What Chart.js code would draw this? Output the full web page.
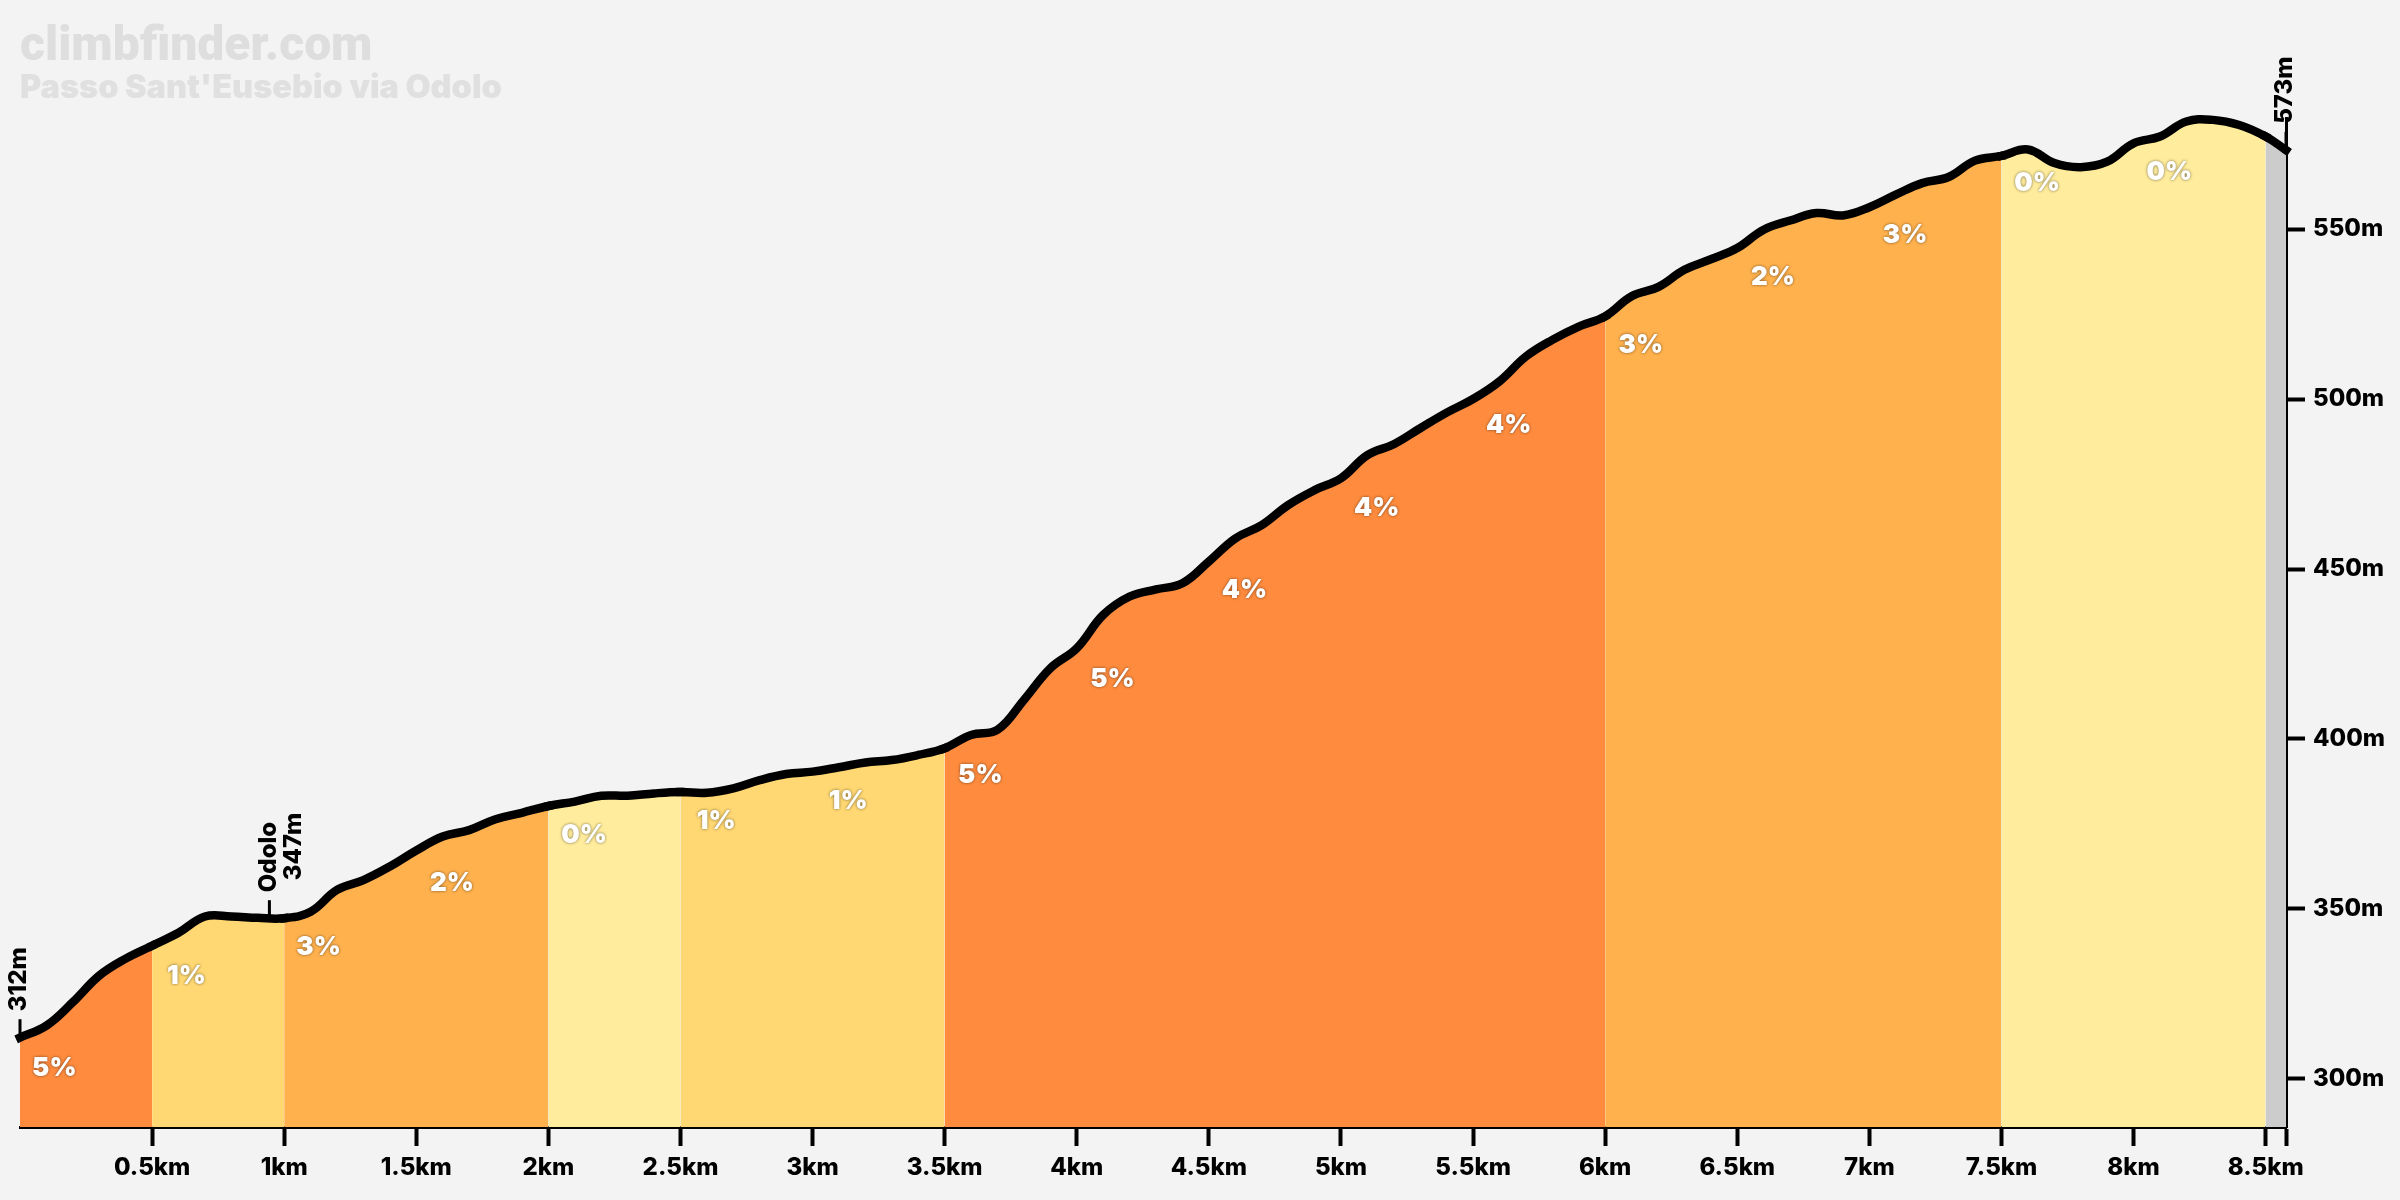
<!DOCTYPE html>
<html>
<head>
<meta charset="utf-8">
<style>
  html, body { margin: 0; padding: 0; background: #f3f3f3; }
  canvas { display: block; }
</style>
<script src="https://cdn.jsdelivr.net/npm/chart.js@4"></script>
</head>
<body>
<canvas id="chart" width="2400" height="1200"></canvas>
<script>
const distKm = [0, 0.1, 0.2, 0.3, 0.4, 0.5, 0.6, 0.7, 0.8, 0.9, 1, 1.1, 1.2, 1.3, 1.4, 1.5, 1.6, 1.7, 1.8, 1.9,
  2, 2.1, 2.2, 2.3, 2.4, 2.5, 2.6, 2.7, 2.8, 2.9, 3, 3.1, 3.2, 3.3, 3.4, 3.5, 3.6, 3.7, 3.8, 3.9,
  4, 4.1, 4.2, 4.3, 4.4, 4.5, 4.6, 4.7, 4.8, 4.9, 5, 5.1, 5.2, 5.3, 5.4, 5.5, 5.6, 5.7, 5.8, 5.9,
  6, 6.1, 6.2, 6.3, 6.4, 6.5, 6.6, 6.7, 6.8, 6.9, 7, 7.1, 7.2, 7.3, 7.4, 7.5, 7.6, 7.7, 7.8, 7.9,
  8, 8.1, 8.2, 8.3, 8.4, 8.5, 8.577];
const altM = [312.2, 315.7, 322.6, 330.4, 335.4, 339.2, 343, 347.8, 347.8, 347.4, 347.3, 349.2, 355.6, 358.5, 362.5, 367.2, 371.3, 373.2, 376.4, 378.3,
  380.3, 381.6, 383.3, 383.3, 384, 384.4, 384.2, 385.5, 387.9, 389.7, 390.4, 391.7, 393.1, 393.8, 395.3, 397.3, 401.2, 402.7, 411.5, 420.8,
  426.7, 436.5, 441.9, 444, 445.8, 452.2, 459, 462.9, 468.8, 473.2, 476.7, 483.5, 486.7, 491.4, 496, 500, 505.2, 512.5, 517.4, 521.3,
  524.3, 530.2, 532.9, 538, 541.1, 544.4, 549.8, 552.5, 554.7, 554, 556.4, 560.1, 563.5, 565.3, 570.1, 571.5, 573.4, 569.4, 568.2, 569.8,
  575.2, 577.2, 581.6, 582.1, 580.6, 577.2, 573.2];

const bandStart = [0, 0.5, 1, 2, 2.5, 3.5, 6, 7.5, 8.5];
const bandColors = ['#ff8c3e', '#ffd873', '#ffb14d', '#ffec9c', '#ffd873', '#ff8c3e', '#ffb14d', '#ffec9c', '#cccccc'];

const gradeKm = [0.13, 0.63, 1.13, 1.635, 2.135, 2.635, 3.135, 3.635, 4.135, 4.635, 5.135, 5.635, 6.135, 6.635, 7.135, 7.635, 8.135];
const gradeAlt = [303.5, 330.6, 339.1, 357.9, 372.1, 376.2, 382.1, 389.7, 417.9, 444.1, 468.2, 492.6, 516.2, 536.2, 548.5, 563.8, 567.1];
const gradeLabels = ['5%', '1%', '3%', '2%', '0%', '1%', '1%', '5%', '5%', '4%', '4%', '4%', '3%', '2%', '3%', '0%', '0%'];

const markerKm = [0, 0.944, 8.577];
const markerAlt = [312, 347, 573];
const markerLabels = [['312m'], ['Odolo', '347m'], ['573m']];

const xTickValues = [0.5, 1, 1.5, 2, 2.5, 3, 3.5, 4, 4.5, 5, 5.5, 6, 6.5, 7, 7.5, 8, 8.5, 8.577];
const xTickLabels = ['0.5km', '1km', '1.5km', '2km', '2.5km', '3km', '3.5km', '4km', '4.5km', '5km', '5.5km', '6km', '6.5km', '7km', '7.5km', '8km', '8.5km', ''];
const yTickValues = [300, 350, 400, 450, 500, 550];
const yTickLabels = ['300m', '350m', '400m', '450m', '500m', '550m'];

const FONT = 'Inter, "DejaVu Sans", sans-serif';

function bandColor(km) {
  let color = bandColors[0];
  bandStart.forEach((start, i) => { if (km >= start - 0.001) color = bandColors[i]; });
  return color;
}

const annotationsPlugin = {
  id: 'annotations',
  afterDatasetsDraw(chart) {
    const { ctx, scales: { x, y } } = chart;

    ctx.save();
    ctx.fillStyle = '#fff';
    ctx.font = `900 26px ${FONT}`;
    ctx.textAlign = 'center';
    ctx.textBaseline = 'middle';
    ctx.shadowColor = 'rgba(0,0,0,.55)';
    ctx.shadowBlur = 3;
    gradeLabels.forEach((label, i) => {
      ctx.fillText(label, x.getPixelForValue(gradeKm[i]), y.getPixelForValue(gradeAlt[i]) + 1);
    });
    ctx.restore();

    ctx.save();
    ctx.strokeStyle = '#000';
    ctx.fillStyle = '#000';
    ctx.lineWidth = 3;
    ctx.font = `800 24px ${FONT}`;
    ctx.textBaseline = 'middle';
    ctx.textAlign = 'left';
    markerLabels.forEach((lines, i) => {
      const px = x.getPixelForValue(markerKm[i]);
      const py = y.getPixelForValue(markerAlt[i]);
      ctx.beginPath();
      ctx.moveTo(px, py);
      ctx.lineTo(px, py - 19);
      ctx.stroke();
      ctx.save();
      ctx.translate(px - 1, py - 27);
      ctx.rotate(-Math.PI / 2);
      lines.forEach((text, n) => ctx.fillText(text, n * 12, n * 25));
      ctx.restore();
    });
    ctx.restore();
  }
};

new Chart(document.getElementById('chart'), {
  type: 'line',
  data: {
    datasets: [{
      data: distKm.map((km, i) => ({ x: km, y: altM[i] })),
      borderColor: '#000',
      borderWidth: 8.5,
      borderCapStyle: 'square',
      borderJoinStyle: 'round',
      tension: 0.4,
      pointRadius: 0,
      fill: 'start',
      clip: false,
      segment: { backgroundColor: ctx => bandColor(ctx.p0.parsed.x) }
    }]
  },
  plugins: [annotationsPlugin],
  options: {
    responsive: false,
    animation: false,
    layout: { padding: { left: 20, top: 0, right: 0, bottom: 0 } },
    plugins: {
      legend: { display: false },
      tooltip: { enabled: false },
      title: {
        display: true,
        text: 'climbfinder.com',
        align: 'start',
        color: '#dedede',
        font: { family: 'Roboto, ' + FONT, size: 48, weight: '900', lineHeight: 1 },
        padding: { top: 24, bottom: 0 }
      },
      subtitle: {
        display: true,
        text: "Passo Sant'Eusebio via Odolo",
        align: 'start',
        color: '#e0e0e0',
        font: { family: FONT, size: 32.5, weight: '900', lineHeight: 1 },
        padding: { top: 0, bottom: 13.5 }
      }
    },
    scales: {
      x: {
        type: 'linear',
        min: 0,
        max: 8.577,
        afterBuildTicks: axis => { axis.ticks = xTickValues.map(value => ({ value })); },
        afterFit: axis => { axis.height = 73; },
        border: { color: '#000', width: 3 },
        grid: { drawOnChartArea: false, tickLength: 19, tickColor: '#000', tickWidth: 4 },
        ticks: {
          autoSkip: false,
          maxRotation: 0,
          padding: 7,
          color: '#000',
          font: { family: FONT, size: 24, weight: '800' },
          callback: (value, i) => xTickLabels[i]
        }
      },
      y: {
        type: 'linear',
        position: 'right',
        min: 285.88,
        max: 582.65,
        afterBuildTicks: axis => { axis.ticks = yTickValues.map(value => ({ value })); },
        afterFit: axis => { axis.width = 114; },
        border: { color: '#000', width: 3 },
        grid: { drawOnChartArea: false, tickLength: 19, tickColor: '#000', tickWidth: 4 },
        ticks: {
          padding: 8,
          color: '#000',
          font: { family: FONT, size: 24, weight: '800' },
          callback: (value, i) => yTickLabels[i]
        }
      }
    }
  }
});
</script>
</body>
</html>
